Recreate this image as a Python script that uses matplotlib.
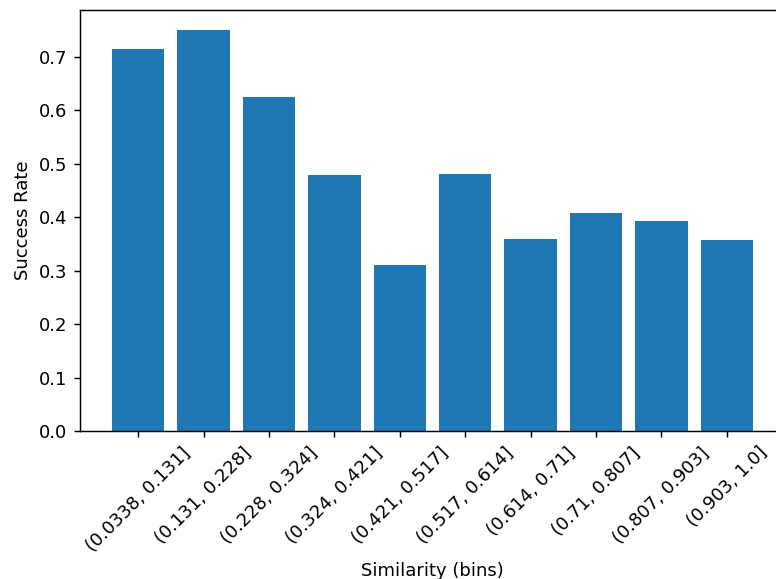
import matplotlib
matplotlib.use("Agg")
from matplotlib import pyplot as plt

bins = ["(0.0338, 0.131]", "(0.131, 0.228]", "(0.228, 0.324]", "(0.324, 0.421]",
        "(0.421, 0.517]", "(0.517, 0.614]", "(0.614, 0.71]", "(0.71, 0.807]",
        "(0.807, 0.903]", "(0.903, 1.0]"]
success_rate = [0.715, 0.750, 0.625, 0.478, 0.310, 0.480, 0.360, 0.407, 0.393, 0.358]

dpi = 130
fig = plt.figure(figsize=(776 / dpi, 579 / dpi), dpi=dpi)
# right spine falls just outside the image in the reference
ax = fig.add_axes([80 / 776, (579 - 431) / 579, 705 / 776, 421 / 579])

ax.bar(range(len(bins)), success_rate, color="#1f77b4")
ax.set_xticks(range(len(bins)))
ax.set_xticklabels(bins, rotation=45)
ax.set_xlabel("Similarity (bins)")
ax.set_ylabel("Success Rate")

fig.savefig("out.png", dpi=dpi)
